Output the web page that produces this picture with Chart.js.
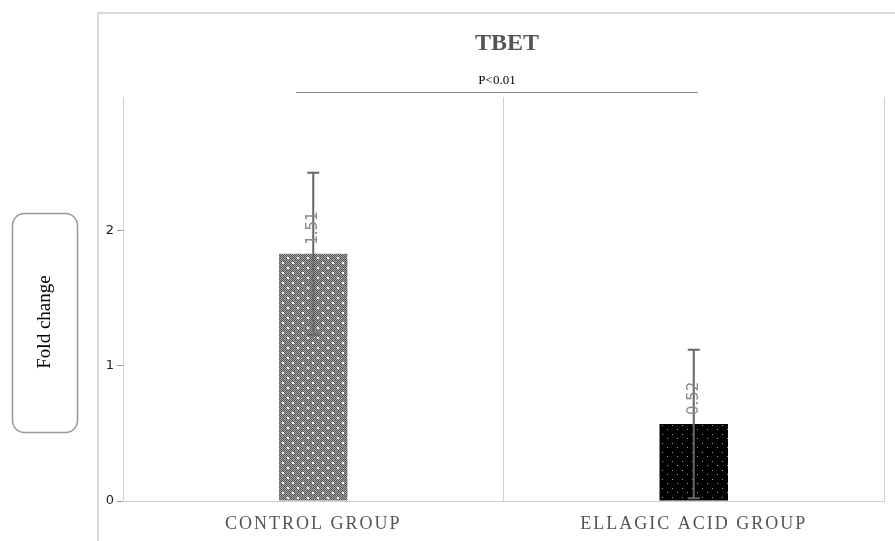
<!DOCTYPE html>
<html>
<head>
<meta charset="utf-8">
<script src="https://cdn.jsdelivr.net/npm/chart.js@4.4.0/dist/chart.umd.min.js"></script>
<style>
html, body { margin: 0; padding: 0; background: #fff; }
</style>
</head>
<body>
<canvas id="grafico" width="895" height="541"></canvas>
<script>
var grupos = ["CONTROL GROUP", "ELLAGIC ACID GROUP"];
var medias = [1.83, 0.57];
var desvios = [0.6, 0.55];
var rotulos = ["1.51", "0.52"];
var ticksY = [0, 1, 2];

function padraoControle() {
    var c = document.createElement("canvas");
    c.width = 10; c.height = 10;
    var g = c.getContext("2d");
    for (var i = 0; i < 10; i++) {
        for (var j = 0; j < 10; j++) {
            g.fillStyle = (i + j) % 2 === 0 ? "#555555" : "#a5a5a5";
            g.fillRect(i, j, 1, 1);
        }
    }
    g.fillStyle = "#ffffff";
    g.fillRect(2, 2, 2, 2);
    g.fillRect(7, 7, 2, 2);
    return g.createPattern(c, "repeat");
}

function padraoEllagic() {
    var c = document.createElement("canvas");
    c.width = 10; c.height = 9;
    var g = c.getContext("2d");
    g.fillStyle = "#000000";
    g.fillRect(0, 0, 10, 9);
    g.fillStyle = "#a0a0a0";
    g.fillRect(2, 2, 1, 1);
    g.fillRect(7, 6, 1, 1);
    return g.createPattern(c, "repeat");
}

var extras = {
    id: "extras",
    beforeDraw: function(chart) {
        var ctx = chart.ctx;
        ctx.save();
        // moldura externa
        ctx.strokeStyle = "#d9d9d9";
        ctx.lineWidth = 2;
        ctx.beginPath();
        ctx.moveTo(98, 541);
        ctx.lineTo(98, 13);
        ctx.lineTo(895, 13);
        ctx.stroke();

        // titulo
        ctx.fillStyle = "#555";
        ctx.font = "bold 24px 'Liberation Serif'";
        ctx.textAlign = "center";
        ctx.textBaseline = "middle";
        ctx.fillText("TBET", 507, 44);

        // significancia
        ctx.fillStyle = "#000";
        ctx.font = "13px 'Liberation Serif'";
        ctx.fillText("P<0.01", 497, 81);
        ctx.strokeStyle = "#888";
        ctx.lineWidth = 1;
        ctx.beginPath();
        ctx.moveTo(296, 92.5);
        ctx.lineTo(698, 92.5);
        ctx.stroke();

        // caixa do eixo Y
        ctx.strokeStyle = "#999";
        ctx.lineWidth = 1.5;
        ctx.beginPath();
        ctx.roundRect(12.5, 213.5, 65, 219, 12);
        ctx.stroke();
        ctx.translate(45, 322);
        ctx.rotate(-Math.PI / 2);
        ctx.fillStyle = "#000";
        ctx.font = "19px 'Liberation Serif'";
        ctx.fillText("Fold change", 0, 0);
        ctx.restore();

        // rotulos do eixo X
        var x = chart.scales.x;
        ctx.save();
        ctx.fillStyle = "#555";
        ctx.font = "18px 'Liberation Serif'";
        ctx.letterSpacing = "2px";
        ctx.textAlign = "center";
        ctx.textBaseline = "middle";
        for (var i = 0; i < grupos.length; i++) {
            ctx.fillText(grupos[i], x.getPixelForValue(i), 524);
        }
        ctx.restore();
    },
    afterDatasetsDraw: function(chart) {
        var ctx = chart.ctx;
        var y = chart.scales.y;
        var meta = chart.getDatasetMeta(0);
        ctx.save();
        for (var i = 0; i < medias.length; i++) {
            var px = meta.data[i].x;
            var topo = y.getPixelForValue(medias[i] + desvios[i]);
            var base = y.getPixelForValue(Math.max(0, medias[i] - desvios[i]));
            ctx.strokeStyle = "#666";
            ctx.lineWidth = 2;
            ctx.beginPath();
            ctx.moveTo(px, topo);
            ctx.lineTo(px, base);
            ctx.moveTo(px - 6, topo);
            ctx.lineTo(px + 6, topo);
            ctx.moveTo(px - 6, base);
            ctx.lineTo(px + 6, base);
            ctx.stroke();

            ctx.save();
            ctx.translate(px, meta.data[i].y - 9);
            ctx.rotate(-Math.PI / 2);
            ctx.font = "15px 'DejaVu Sans'";
            ctx.fillStyle = "#8a8a8a";
            ctx.textAlign = "left";
            ctx.textBaseline = "middle";
            ctx.fillText(rotulos[i], 0, 0);
            ctx.restore();
        }
        ctx.restore();
    }
};

var ctx = document.getElementById("grafico");

new Chart(ctx.getContext("2d"), {
    type: "bar",
    data: {
        labels: grupos,
        datasets: [{
            label: "Fold change",
            data: medias,
            backgroundColor: [padraoControle(), padraoEllagic()],
            borderWidth: 0,
            barPercentage: 0.9,
            categoryPercentage: 0.2
        }]
    },
    options: {
        responsive: false,
        animation: false,
        layout: { padding: { left: 83, right: 11, top: 97, bottom: 0 } },
        plugins: {
            legend: { display: false },
            tooltip: { enabled: false }
        },
        scales: {
            x: {
                afterFit: function(s) { s.height = 40; },
                grid: { offset: true, color: "#d0d0d0", drawTicks: false },
                border: { color: "#d0d0d0" },
                ticks: { display: false }
            },
            y: {
                min: 0,
                max: 2.99,
                afterFit: function(s) { s.width = 40; },
                afterBuildTicks: function(s) {
                    s.ticks = ticksY.map(function(v) { return { value: v }; });
                },
                grid: { drawOnChartArea: false, tickLength: 6, color: "#999" },
                border: { color: "#d0d0d0" },
                ticks: {
                    color: "#222",
                    padding: 3,
                    font: { family: "'DejaVu Sans'", size: 13 }
                }
            }
        }
    },
    plugins: [extras]
});
</script>
</body>
</html>
